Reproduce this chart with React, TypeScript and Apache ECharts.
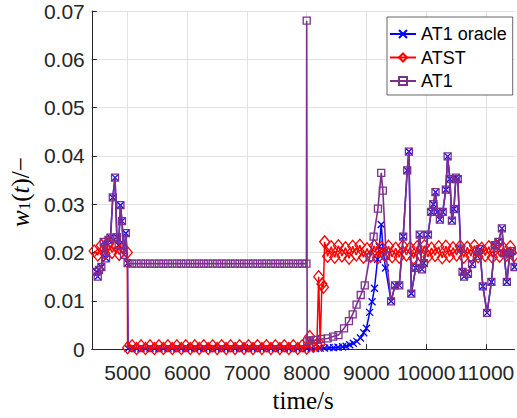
import React, { useEffect, useRef } from "react";
import * as echarts from "echarts";

const X_TICKS = [5000, 6000, 7000, 8000, 9000, 10000, 11000];

const SHARED_START: [number, number][] = [
  [4475, 0.016], [4500, 0.015], [4521, 0.0164], [4560, 0.017], [4600, 0.0222], [4640, 0.0188],
  [4680, 0.0226], [4714, 0.0231], [4752, 0.0314], [4790, 0.0355], [4820, 0.0232], [4850, 0.0215],
  [4880, 0.0298], [4906, 0.0265], [4940, 0.0195], [4970, 0.024], [5000, 0.0178],
];

const ORACLE_MID: [number, number][] = [
  [5008, 0.0001], [5075, 0.0002], [5150, 0.0001], [5225, 0.0002], [5300, 0.0001], [5375, 0.0002],
  [5450, 0.0001], [5525, 0.0002], [5600, 0.0001], [5675, 0.0002], [5750, 0.0001], [5825, 0.0002],
  [5900, 0.0001], [5975, 0.0002], [6050, 0.0001], [6125, 0.0002], [6200, 0.0001], [6275, 0.0002],
  [6350, 0.0001], [6425, 0.0002], [6500, 0.0001], [6575, 0.0002], [6650, 0.0001], [6725, 0.0002],
  [6800, 0.0001], [6875, 0.0002], [6950, 0.0001], [7025, 0.0002], [7100, 0.0001], [7175, 0.0002],
  [7250, 0.0001], [7325, 0.0002], [7400, 0.0001], [7475, 0.0002], [7550, 0.0001], [7625, 0.0002],
  [7700, 0.0001], [7775, 0.0002], [7850, 0.0001], [7925, 0.0002], [8000, 0.0001], [8075, 0.0001],
  [8150, 0.0001], [8225, 0.0002], [8300, 0.0002], [8375, 0.0003], [8450, 0.0003], [8525, 0.0004],
  [8600, 0.0005], [8660, 0.0006], [8720, 0.0009], [8780, 0.0012], [8840, 0.0016], [8900, 0.0023],
  [8955, 0.0034], [9000, 0.0043], [9055, 0.0076], [9095, 0.0098], [9135, 0.0126], [9187, 0.0186],
  [9215, 0.0212], [9248, 0.0258], [9280, 0.0205], [9319, 0.0168],
];

const AT1_MID: [number, number][] = [
  [5075, 0.0177], [5150, 0.0177], [5225, 0.0177], [5300, 0.0177], [5375, 0.0177], [5450, 0.0177],
  [5525, 0.0177], [5600, 0.0177], [5675, 0.0177], [5750, 0.0177], [5825, 0.0177], [5900, 0.0177],
  [5975, 0.0177], [6050, 0.0177], [6125, 0.0177], [6200, 0.0177], [6275, 0.0177], [6350, 0.0177],
  [6425, 0.0177], [6500, 0.0177], [6575, 0.0177], [6650, 0.0177], [6725, 0.0177], [6800, 0.0177],
  [6875, 0.0177], [6950, 0.0177], [7025, 0.0177], [7100, 0.0177], [7175, 0.0177], [7250, 0.0177],
  [7325, 0.0177], [7400, 0.0177], [7475, 0.0177], [7550, 0.0177], [7625, 0.0177], [7700, 0.0177],
  [7775, 0.0177], [7850, 0.0177], [7925, 0.0177], [7995, 0.0177], [8000, 0.068], [8008, 0.0016],
  [8047, 0.0018], [8146, 0.0019], [8240, 0.0021], [8350, 0.0022], [8443, 0.0026], [8532, 0.0029],
  [8625, 0.0043], [8707, 0.0058], [8770, 0.0072], [8835, 0.0092], [8905, 0.0112], [8972, 0.0132],
  [9055, 0.019], [9121, 0.0233], [9193, 0.0291], [9248, 0.0365], [9275, 0.0328], [9331, 0.0193],
];

const SHARED_END: [number, number][] = [
  [9413, 0.0099], [9479, 0.0132], [9550, 0.0132], [9616, 0.0233], [9683, 0.037], [9711, 0.0409],
  [9752, 0.0115], [9826, 0.0168], [9893, 0.0237], [9930, 0.0165], [9963, 0.0178], [10030, 0.0237],
  [10085, 0.0284], [10120, 0.03], [10157, 0.0325], [10190, 0.0284], [10230, 0.0268], [10278, 0.0284],
  [10330, 0.033], [10360, 0.0399], [10398, 0.0352], [10432, 0.0266], [10465, 0.029], [10498, 0.0355],
  [10530, 0.0352], [10579, 0.0208], [10610, 0.016], [10636, 0.015], [10700, 0.0156], [10769, 0.0176],
  [10851, 0.0193], [10900, 0.0207], [10950, 0.013], [11021, 0.0075], [11093, 0.0139], [11149, 0.0215],
  [11210, 0.0222], [11269, 0.025], [11305, 0.0198], [11352, 0.0139], [11400, 0.0196], [11435, 0.0203],
  [11480, 0.017],
];

const ATST: [number, number][] = [
  [4440, 0.0203], [4500, 0.0195], [4560, 0.0215], [4620, 0.0198], [4680, 0.0218], [4740, 0.02],
  [4800, 0.0213], [4860, 0.0196], [4920, 0.021], [4995, 0.02], [5000, 0.0003],
  [5075, 0.0007], [5150, 0.0001], [5225, 0.0007], [5300, 0.0001], [5375, 0.0007], [5450, 0.0001],
  [5525, 0.0007], [5600, 0.0001], [5675, 0.0007], [5750, 0.0001], [5825, 0.0007], [5900, 0.0001],
  [5975, 0.0007], [6050, 0.0001], [6125, 0.0007], [6200, 0.0001], [6275, 0.0007], [6350, 0.0001],
  [6425, 0.0007], [6500, 0.0001], [6575, 0.0007], [6650, 0.0001], [6725, 0.0007], [6800, 0.0001],
  [6875, 0.0007], [6950, 0.0001], [7025, 0.0007], [7100, 0.0001], [7175, 0.0007], [7250, 0.0001],
  [7325, 0.0007], [7400, 0.0001], [7475, 0.0007], [7550, 0.0001], [7625, 0.0007], [7700, 0.0001],
  [7775, 0.0007], [7850, 0.0001], [7925, 0.0007], [8000, 0.0002], [8050, 0.0026], [8110, 0.0006],
  [8170, 0.001], [8200, 0.015], [8225, 0.001], [8255, 0.0135], [8280, 0.0128], [8300, 0.0222],
  [8350, 0.0192], [8410, 0.0212], [8470, 0.019], [8530, 0.0214], [8590, 0.0193], [8650, 0.021],
  [8710, 0.0188], [8770, 0.0213], [8830, 0.0195], [8890, 0.0215], [8950, 0.019], [9010, 0.0208],
  [9070, 0.0192], [9130, 0.0214], [9190, 0.0189], [9250, 0.0211], [9310, 0.0194], [9370, 0.0213],
  [9430, 0.0191], [9490, 0.0209], [9550, 0.019], [9610, 0.0214], [9670, 0.0195], [9730, 0.021],
  [9790, 0.0188], [9850, 0.0212], [9910, 0.0193], [9970, 0.0214], [10030, 0.0191], [10090, 0.0209],
  [10150, 0.0194], [10210, 0.0212], [10270, 0.0189], [10330, 0.0213], [10390, 0.0192], [10450, 0.021],
  [10510, 0.0195], [10570, 0.0213], [10630, 0.019], [10690, 0.0211], [10750, 0.0193], [10810, 0.0214],
  [10870, 0.0191], [10930, 0.0209], [10990, 0.0194], [11050, 0.0212], [11110, 0.019], [11170, 0.0213],
  [11230, 0.0192], [11290, 0.021], [11350, 0.0195], [11410, 0.0212], [11470, 0.0193],
];

const ORACLE = [...SHARED_START, ...ORACLE_MID, ...SHARED_END];
const AT1 = [...SHARED_START, ...AT1_MID, ...SHARED_END];

const BLUE = "#0000ff";
const RED = "#ff0000";
const PURPLE = "#7e2f8e";
const AXIS = "#262626";
const GRID = "#e2e2e2";
const SANS = "'Liberation Sans', Arial, Helvetica, sans-serif";
const SERIF = "'Liberation Serif', 'Times New Roman', serif";

export default function App() {
  const ref = useRef<HTMLDivElement>(null);
  useEffect(() => {
    if (!ref.current) return;
    const chart = echarts.init(ref.current, undefined, { renderer: "svg" });
    chart.setOption({
      animation: false,
      backgroundColor: "#fff",
      grid: { left: 88, right: 0.5, top: 11, bottom: 61, show: false },
      legend: {
        orient: "vertical",
        left: 387,
        top: 17,
        padding: [8, 6, 5, 2],
        itemGap: 5.5,
        itemWidth: 26,
        itemHeight: 10,
        borderColor: AXIS,
        borderWidth: 0.7,
        backgroundColor: "#fff",
        textStyle: { fontSize: 18, color: "#000", fontFamily: SANS },
        data: ["AT1 oracle", "ATST", "AT1"],
      },
      xAxis: {
        type: "value",
        min: 4400,
        max: 11480,
        name: "time/s",
        nameLocation: "middle",
        nameGap: 35,
        nameTextStyle: { fontFamily: SERIF, fontSize: 25, color: "#000" },
        axisLine: { show: true, lineStyle: { color: AXIS, width: 1 } },
        axisTick: { show: true, inside: true, length: 5, lineStyle: { color: AXIS }, customValues: X_TICKS },
        axisLabel: {
          customValues: X_TICKS,
          fontSize: 21,
          color: AXIS,
          fontFamily: SANS,
          margin: 13,
          hideOverlap: false,
          showMinLabel: true,
          showMaxLabel: true,
          formatter: (v: number) => String(v),
        },
        splitLine: { show: true, lineStyle: { color: GRID, width: 1 } },
      },
      yAxis: {
        type: "value",
        min: 0,
        max: 0.07,
        interval: 0.01,
        name: "{it|w}{sub|1}{rm|(}{it|t}{rm|)/−}",
        nameLocation: "middle",
        nameGap: 56,
        nameRotate: 90,
        nameTextStyle: {
          padding: [0, 24, 0, 0],
          rich: {
            it: { fontFamily: SERIF, fontStyle: "italic", fontSize: 25, color: "#000" },
            rm: { fontFamily: SERIF, fontSize: 25, color: "#000" },
            sub: { fontFamily: SERIF, fontSize: 17, color: "#000", verticalAlign: "bottom" },
          },
        },
        axisLine: { show: true, lineStyle: { color: AXIS, width: 1 } },
        axisTick: { show: true, inside: true, length: 5, lineStyle: { color: AXIS } },
        axisLabel: {
          fontSize: 21,
          color: AXIS,
          fontFamily: SANS,
          margin: 7,
          formatter: (v: number) => (v === 0 ? "0" : v.toFixed(2)),
        },
        splitLine: { show: true, lineStyle: { color: GRID, width: 1 } },
      },
      series: [
        {
          name: "AT1 oracle",
          type: "line",
          data: ORACLE,
          symbol: "path://M0,0L10,10M0,10L10,0",
          symbolSize: 7,
          lineStyle: { color: BLUE, width: 1.5 },
          itemStyle: { color: BLUE, borderColor: BLUE, borderWidth: 1.3 },
          clip: true,
          z: 2,
        },
        {
          name: "ATST",
          type: "line",
          data: ATST,
          symbol: "diamond",
          symbolSize: [10, 12],
          lineStyle: { color: RED, width: 1.5 },
          itemStyle: { color: "rgba(255,255,255,0)", borderColor: RED, borderWidth: 1.3 },
          clip: true,
          z: 3,
        },
        {
          name: "AT1",
          type: "line",
          data: AT1,
          symbol: "rect",
          symbolSize: 7,
          lineStyle: { color: PURPLE, width: 1.6 },
          itemStyle: { color: "rgba(255,255,255,0)", borderColor: PURPLE, borderWidth: 1.3 },
          clip: true,
          z: 4,
        },
      ],
    });
    return () => chart.dispose();
  }, []);
  return (
    <div
      ref={ref}
      style={{ position: "fixed", left: 0, top: 0, width: 517, height: 418, background: "#fff" }}
    />
  );
}
